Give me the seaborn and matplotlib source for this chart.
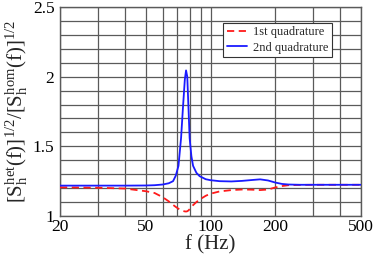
import matplotlib
matplotlib.use("Agg")
import matplotlib.pyplot as plt
import seaborn as sns
import pandas as pd
from matplotlib.ticker import FixedLocator, NullLocator, FixedFormatter

# ---- data ----
freq_hz = [20, 30, 40, 50, 55, 60, 64, 67, 69, 71, 73, 74.5, 76, 77, 78, 79, 80,
           81.5, 83, 86, 89, 95, 100, 110, 125, 140, 155, 170, 185, 200, 215, 230,
           260, 300, 400, 500]
quad2 = [1.218, 1.218, 1.218, 1.219, 1.221, 1.226, 1.235, 1.250, 1.290, 1.360,
         1.560, 1.780, 1.980, 2.045, 2.000, 1.780, 1.560, 1.430, 1.360, 1.310,
         1.286, 1.264, 1.257, 1.250, 1.248, 1.252, 1.258, 1.263, 1.255, 1.240,
         1.230, 1.226, 1.224, 1.224, 1.224, 1.224]
quad1 = [1.206, 1.203, 1.197, 1.178, 1.165, 1.135, 1.105, 1.080, 1.065, 1.052,
         1.042, 1.036, 1.033, 1.032, 1.034, 1.040, 1.049, 1.062, 1.078, 1.100,
         1.118, 1.145, 1.160, 1.176, 1.186, 1.190, 1.189, 1.186, 1.190, 1.205,
         1.215, 1.221, 1.223, 1.224, 1.224, 1.224]
labels = ["1st quadrature", "2nd quadrature"]
xticks_major = [20, 50, 100, 200, 500]
xgrid = [20, 30, 40, 50, 60, 70, 80, 90, 100, 200, 300, 400, 500]
yticks_major = [1, 1.5, 2, 2.5]
ygrid = [1.0, 1.1, 1.2, 1.3, 1.4, 1.5, 1.6, 1.7, 1.8, 1.9, 2.0, 2.1, 2.2, 2.3, 2.4, 2.5]

df1 = pd.DataFrame({"f": freq_hz, "r": quad1})
df2 = pd.DataFrame({"f": freq_hz, "r": quad2})

sns.set_style("white")
plt.rcParams["font.family"] = ["Liberation Serif", "DejaVu Serif"]
plt.rcParams["mathtext.fontset"] = "custom"
plt.rcParams["mathtext.rm"] = "Liberation Serif"
plt.rcParams["mathtext.it"] = "Liberation Serif:italic"

fig = plt.figure(figsize=(3.74, 2.58), dpi=100)
ax = fig.add_axes([60 / 374, 42 / 258, 301 / 374, 209 / 258])

gc = "#5a5a5a"
for g in xgrid:
    ax.axvline(g, color=gc, lw=0.9, zorder=0)
for g in ygrid:
    ax.axhline(g, color=gc, lw=0.9, zorder=0)

sns.lineplot(data=df1, x="f", y="r", ax=ax, color="#ff1a1a", lw=1.3,
             linestyle=(0, (4, 2.5)), label=labels[0], zorder=3)
sns.lineplot(data=df2, x="f", y="r", ax=ax, color="#1a1aff", lw=1.3,
             label=labels[1], zorder=4)

ax.set_xscale("log")
ax.set_xlim(20, 500)
ax.set_ylim(1, 2.5)
ax.xaxis.set_major_locator(FixedLocator(xticks_major))
ax.xaxis.set_major_formatter(FixedFormatter([str(t) for t in xticks_major]))
ax.xaxis.set_minor_locator(NullLocator())
ax.yaxis.set_major_locator(FixedLocator(yticks_major))
ax.yaxis.set_major_formatter(FixedFormatter(["1", "1.5", "2", "2.5"]))
ax.tick_params(axis="both", length=0, labelsize=12.5, colors="black")
ax.tick_params(axis="x", pad=2)
ax.tick_params(axis="y", pad=4)

for s in ax.spines.values():
    s.set_color(gc)
    s.set_linewidth(1.0)

ax.set_xlabel("f (Hz)", fontsize=15, labelpad=0)
ax.set_ylabel(r"$[\mathrm{S_h^{het}(f)}]^{1/2}/[\mathrm{S_h^{hom}(f)}]^{1/2}$",
              fontsize=15, labelpad=2)

leg = ax.legend(loc="upper right", bbox_to_anchor=(0.904, 0.925), borderaxespad=0,
                fontsize=9, frameon=True, fancybox=False, handlelength=1.6,
                handletextpad=0.5, borderpad=0.3, labelspacing=0.25)
leg.get_frame().set_edgecolor("#333333")
leg.get_frame().set_linewidth(0.8)
leg.get_frame().set_alpha(1)

fig.savefig("out.png", dpi=100)
